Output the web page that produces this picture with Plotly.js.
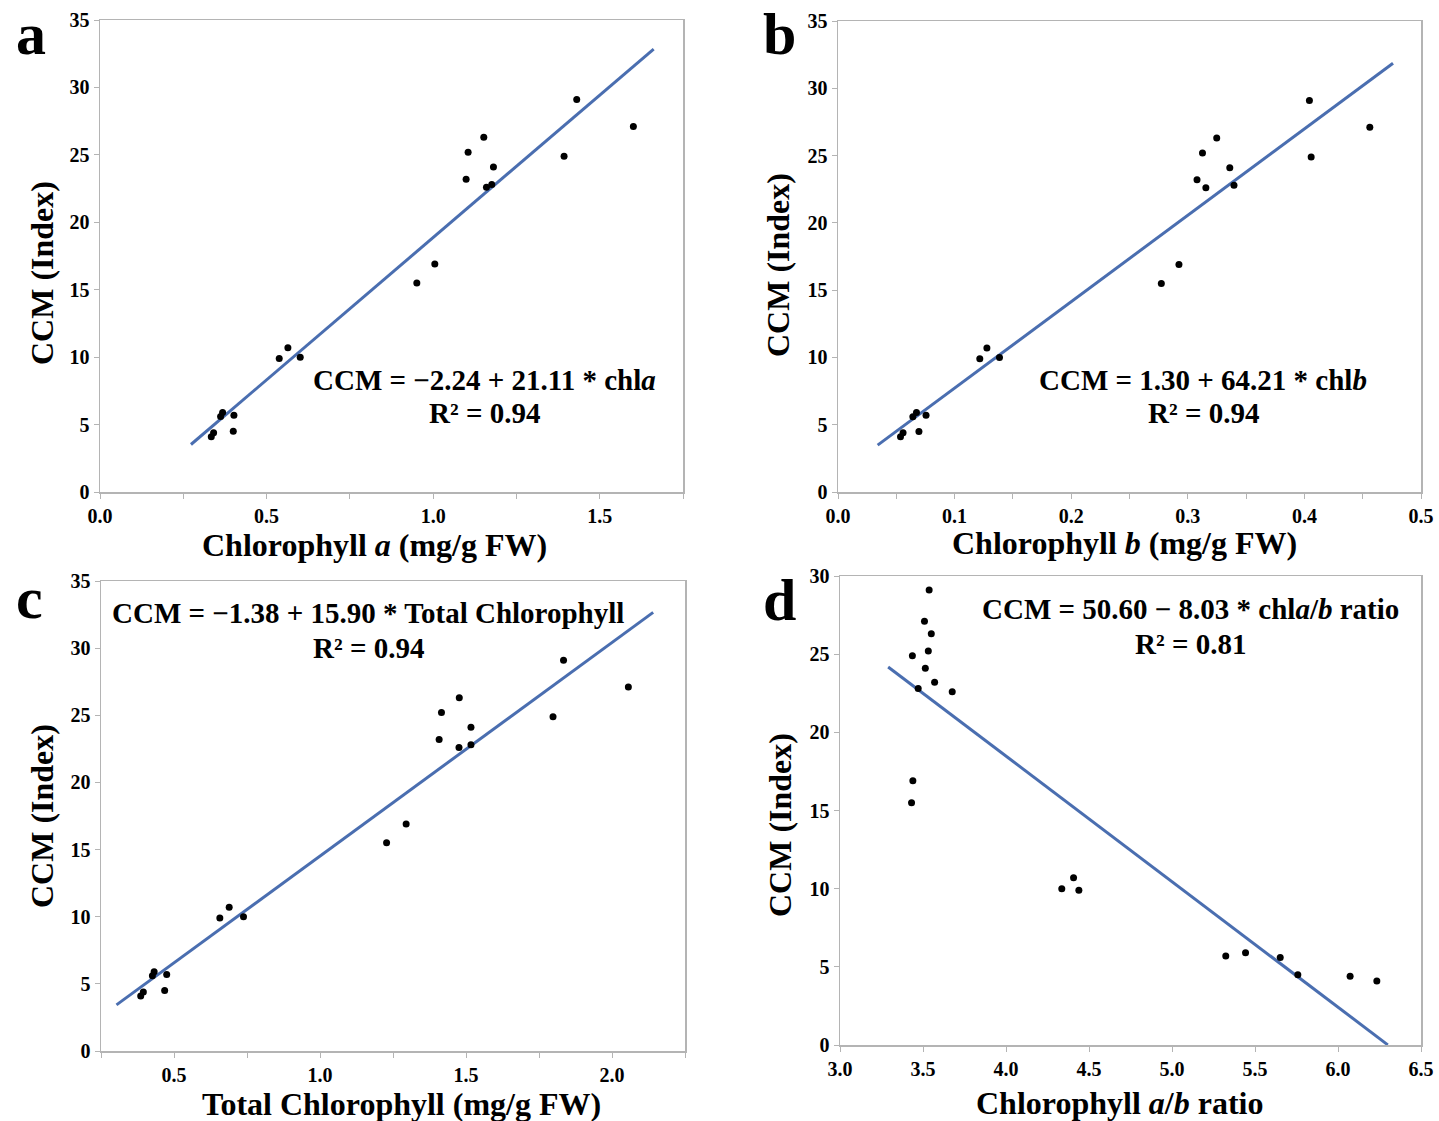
<!DOCTYPE html>
<html>
<head>
<meta charset="utf-8">
<script src="https://cdn.plot.ly/plotly-3.0.1.min.js"></script>
<style>
html,body{margin:0;padding:0;background:#fff;}
#chart{width:1439px;height:1121px;}
</style>
</head>
<body>
<div id="chart"></div>
<script>
// CCM index for each sample (shared by all four panels)
const ccm = [4.1, 4.4, 5.9, 5.6, 5.7, 4.5, 9.9, 10.7, 10.0, 15.5, 16.9, 23.2, 25.2, 26.3, 22.6, 22.8, 24.1, 24.9, 29.1, 27.1];
// Chlorophyll a (mg/g FW)
const chlA = [0.334, 0.341, 0.368, 0.362, 0.402, 0.400, 0.538, 0.564, 0.601, 0.951, 1.005, 1.099, 1.105, 1.152, 1.160, 1.176, 1.181, 1.393, 1.431, 1.601];
// Chlorophyll b (mg/g FW)
const chlB = [0.0536, 0.0558, 0.0673, 0.0642, 0.0755, 0.0694, 0.1216, 0.1277, 0.1385, 0.2773, 0.2924, 0.3079, 0.3126, 0.3248, 0.3155, 0.3396, 0.3360, 0.4058, 0.4043, 0.4561];
// Total chlorophyll (mg/g FW)
const chlTotal = [0.386, 0.395, 0.432, 0.426, 0.475, 0.468, 0.657, 0.689, 0.738, 1.228, 1.295, 1.408, 1.416, 1.477, 1.476, 1.517, 1.517, 1.798, 1.834, 2.056];
// Chlorophyll a/b ratio
const chlRatio = [6.234, 6.073, 5.443, 5.652, 5.324, 5.758, 4.439, 4.407, 4.336, 3.431, 3.439, 3.570, 3.532, 3.550, 3.676, 3.471, 3.514, 3.436, 3.537, 3.509];

// Regression fits: intercept, slope, x extent of the drawn line
const fitIntercept = [-2.24, 1.30, -1.38, 50.60];
const fitSlope = [21.11, 64.21, 15.90, -8.03];
const fitXStart = [0.273, 0.034, 0.303, 3.29];
const fitXEnd = [1.662, 0.476, 2.141, 6.30];

const panelLetters = ['a', 'b', 'c', 'd'];
const xTitles = ['Chlorophyll <i>a</i> (mg/g FW)', 'Chlorophyll <i>b</i> (mg/g FW)', 'Total Chlorophyll (mg/g FW)', 'Chlorophyll <i>a</i>/<i>b</i> ratio'];
const yTitle = 'CCM (Index)';
const equations = [
  'CCM = \u22122.24 + 21.11 * chl<i>a</i>',
  'CCM = 1.30 + 64.21 * chl<i>b</i>',
  'CCM = \u22121.38 + 15.90 * Total Chlorophyll',
  'CCM = 50.60 \u2212 8.03 * chl<i>a</i>/<i>b</i> ratio'
];
const rSquared = ['R\u00b2 = 0.94', 'R\u00b2 = 0.94', 'R\u00b2 = 0.94', 'R\u00b2 = 0.81'];
const xSeries = [chlA, chlB, chlTotal, chlRatio];

const W = 1439, H = 1121;
// plot-area pixel boxes [left, right, top, bottom]
const boxes = [[100, 683, 20, 492], [838, 1421, 21, 492], [101, 685, 581, 1051], [840, 1421, 576, 1045]];
const xRanges = [[0, 1.75], [0, 0.5], [0.25, 2.25], [3.0, 6.5]];
const yRanges = [[0, 35], [0, 35], [0, 35], [0, 30]];
const xDticks = [0.5, 0.1, 0.5, 0.5];
const xMinor = [0.25, 0.05, 0.25, null];
// text placement in page pixels (centres)
const eqLinePos = [[484, 380, 413], [1203, 380, 413], [368, 613, 648], [1190, 609, 644]];
const xTitlePos = [[374, 545], [1124, 543], [401, 1104], [1119, 1103]];
const yTitlePos = [[42, 273], [778, 265], [42, 816], [780, 825]];
const letterPos = [[31, 0], [779, 0], [30, 598], [780, 600]];

const FONT = 'Liberation Serif, Times New Roman, serif';
const lineColor = '#4a6eb0';
const axisGray = '#b4b4b4';

const traces = [];
const layout = {
  width: W, height: H,
  margin: {l: 0, r: 0, t: 0, b: 0},
  paper_bgcolor: '#fff', plot_bgcolor: '#fff',
  showlegend: false,
  font: {family: FONT, color: '#000'},
  annotations: []
};
const px = v => v / W;
const py = v => 1 - v / H;
function txt(text, x, y, size, extra) {
  return Object.assign({
    xref: 'paper', yref: 'paper', x: px(x), y: py(y),
    xanchor: 'center', yanchor: 'middle', showarrow: false,
    text: '<b>' + text + '</b>',
    font: {family: FONT, size: size, color: '#000', weight: 'bold'}
  }, extra || {});
}

for (let i = 0; i < 4; i++) {
  const sfx = i === 0 ? '' : String(i + 1);
  const xa = 'x' + sfx, ya = 'y' + sfx;
  traces.push({
    type: 'scatter', mode: 'lines', xaxis: xa, yaxis: ya,
    x: [fitXStart[i], fitXEnd[i]],
    y: [fitIntercept[i] + fitSlope[i] * fitXStart[i], fitIntercept[i] + fitSlope[i] * fitXEnd[i]],
    line: {color: lineColor, width: 3}, hoverinfo: 'skip'
  });
  traces.push({
    type: 'scatter', mode: 'markers', xaxis: xa, yaxis: ya,
    x: xSeries[i], y: ccm,
    marker: {color: '#000', size: 7}
  });
  const b = boxes[i];
  const xaxis = {
    domain: [b[0] / W, b[1] / W],
    anchor: ya,
    range: xRanges[i],
    dtick: xDticks[i], tick0: 0,
    tickformat: '.1f',
    ticks: 'outside', ticklen: 5, tickcolor: axisGray, tickwidth: 1,
    showline: true, linecolor: axisGray, linewidth: 1.5, mirror: true,
    showgrid: false, zeroline: false,
    tickfont: {family: FONT, size: 20, color: '#000', weight: 'bold'}
  };
  if (xMinor[i]) {
    xaxis.minor = {dtick: xMinor[i], tick0: 0, ticks: 'outside', ticklen: 5, tickcolor: axisGray, tickwidth: 1, showgrid: false};
  }
  const yaxis = {
    domain: [1 - b[3] / H, 1 - b[2] / H],
    anchor: xa,
    range: yRanges[i],
    dtick: 5,
    ticks: 'outside', ticklen: 5, tickcolor: axisGray, tickwidth: 1,
    showline: true, linecolor: axisGray, linewidth: 1.5, mirror: true,
    showgrid: false, zeroline: false,
    tickfont: {family: FONT, size: 20, color: '#000', weight: 'bold'}
  };
  layout['xaxis' + sfx] = xaxis;
  layout['yaxis' + sfx] = yaxis;

  layout.annotations.push(txt(equations[i], eqLinePos[i][0], eqLinePos[i][1], 29));
  layout.annotations.push(txt(rSquared[i], eqLinePos[i][0], eqLinePos[i][2], 29));
  layout.annotations.push(txt(xTitles[i], xTitlePos[i][0], xTitlePos[i][1], 32));
  layout.annotations.push(txt(yTitle, yTitlePos[i][0], yTitlePos[i][1], 32, {textangle: -90}));
  if (letterPos[i][1] === 0) {
    layout.annotations.push(txt(panelLetters[i], letterPos[i][0], 0, 60, {yanchor: 'top', borderpad: 0}));
  } else {
    layout.annotations.push(txt(panelLetters[i], letterPos[i][0], letterPos[i][1], 60));
  }
}

Plotly.newPlot('chart', traces, layout, {staticPlot: true, displayModeBar: false});
</script>
</body>
</html>
